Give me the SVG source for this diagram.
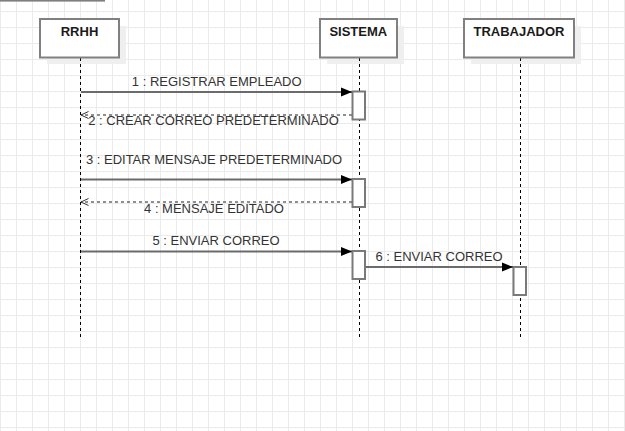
<svg xmlns="http://www.w3.org/2000/svg" width="625" height="431" viewBox="0 0 625 431">
<style>
.grid line{stroke:#ebebeb;stroke-width:1}
.box{fill:#ffffff;stroke:#808080;stroke-width:2}
.shadow{fill:#efefef}
.act{fill:#ffffff;stroke:#7a7a7a;stroke-width:2}
.life{stroke:#000000;stroke-width:1;stroke-dasharray:3 3}
.name{font-family:"Liberation Sans",Arial,Helvetica,sans-serif;font-size:13px;font-weight:bold;fill:#1a1a1a;text-anchor:middle}
.lbl{font-family:"Liberation Sans",Arial,Helvetica,sans-serif;font-size:13px;fill:#333333;text-anchor:middle}
.call{stroke:#6b6b6b;stroke-width:2;fill:none;marker-end:url(#filled)}
.ret{stroke:#6b6b6b;stroke-width:1.5;stroke-dasharray:3 3;fill:none;marker-end:url(#open)}
</style>
<defs>
<marker id="filled" markerUnits="userSpaceOnUse" viewBox="0 0 11 10" refX="11" refY="5" markerWidth="11" markerHeight="10" orient="auto">
<path d="M0,0.5 L11,5 L0,9.5 Z" fill="#000000"/>
</marker>
<marker id="open" markerUnits="userSpaceOnUse" viewBox="0 0 9 9" refX="8.5" refY="4.5" markerWidth="9" markerHeight="9" orient="auto">
<path d="M1,1 L8.5,4.5 L1,8" fill="none" stroke="#333333" stroke-width="1"/>
</marker>
</defs>
<rect x="0" y="0" width="625" height="431" fill="#ffffff"/>
<g class="grid">
<line x1="0.5" y1="0" x2="0.5" y2="431"/><line x1="16.5" y1="0" x2="16.5" y2="431"/><line x1="32.5" y1="0" x2="32.5" y2="431"/><line x1="48.5" y1="0" x2="48.5" y2="431"/><line x1="64.5" y1="0" x2="64.5" y2="431"/><line x1="80.5" y1="0" x2="80.5" y2="431"/><line x1="96.5" y1="0" x2="96.5" y2="431"/><line x1="112.5" y1="0" x2="112.5" y2="431"/><line x1="128.5" y1="0" x2="128.5" y2="431"/><line x1="144.5" y1="0" x2="144.5" y2="431"/><line x1="160.5" y1="0" x2="160.5" y2="431"/><line x1="176.5" y1="0" x2="176.5" y2="431"/><line x1="192.5" y1="0" x2="192.5" y2="431"/><line x1="208.5" y1="0" x2="208.5" y2="431"/><line x1="224.5" y1="0" x2="224.5" y2="431"/><line x1="240.5" y1="0" x2="240.5" y2="431"/><line x1="256.5" y1="0" x2="256.5" y2="431"/><line x1="272.5" y1="0" x2="272.5" y2="431"/><line x1="288.5" y1="0" x2="288.5" y2="431"/><line x1="304.5" y1="0" x2="304.5" y2="431"/><line x1="320.5" y1="0" x2="320.5" y2="431"/><line x1="336.5" y1="0" x2="336.5" y2="431"/><line x1="352.5" y1="0" x2="352.5" y2="431"/><line x1="368.5" y1="0" x2="368.5" y2="431"/><line x1="384.5" y1="0" x2="384.5" y2="431"/><line x1="400.5" y1="0" x2="400.5" y2="431"/><line x1="416.5" y1="0" x2="416.5" y2="431"/><line x1="432.5" y1="0" x2="432.5" y2="431"/><line x1="448.5" y1="0" x2="448.5" y2="431"/><line x1="464.5" y1="0" x2="464.5" y2="431"/><line x1="480.5" y1="0" x2="480.5" y2="431"/><line x1="496.5" y1="0" x2="496.5" y2="431"/><line x1="512.5" y1="0" x2="512.5" y2="431"/><line x1="528.5" y1="0" x2="528.5" y2="431"/><line x1="544.5" y1="0" x2="544.5" y2="431"/><line x1="560.5" y1="0" x2="560.5" y2="431"/><line x1="576.5" y1="0" x2="576.5" y2="431"/><line x1="592.5" y1="0" x2="592.5" y2="431"/><line x1="608.5" y1="0" x2="608.5" y2="431"/><line x1="624.5" y1="0" x2="624.5" y2="431"/>
<line x1="0" y1="11.5" x2="625" y2="11.5"/><line x1="0" y1="27.5" x2="625" y2="27.5"/><line x1="0" y1="43.5" x2="625" y2="43.5"/><line x1="0" y1="59.5" x2="625" y2="59.5"/><line x1="0" y1="75.5" x2="625" y2="75.5"/><line x1="0" y1="91.5" x2="625" y2="91.5"/><line x1="0" y1="107.5" x2="625" y2="107.5"/><line x1="0" y1="123.5" x2="625" y2="123.5"/><line x1="0" y1="139.5" x2="625" y2="139.5"/><line x1="0" y1="155.5" x2="625" y2="155.5"/><line x1="0" y1="171.5" x2="625" y2="171.5"/><line x1="0" y1="187.5" x2="625" y2="187.5"/><line x1="0" y1="203.5" x2="625" y2="203.5"/><line x1="0" y1="219.5" x2="625" y2="219.5"/><line x1="0" y1="235.5" x2="625" y2="235.5"/><line x1="0" y1="251.5" x2="625" y2="251.5"/><line x1="0" y1="267.5" x2="625" y2="267.5"/><line x1="0" y1="283.5" x2="625" y2="283.5"/><line x1="0" y1="299.5" x2="625" y2="299.5"/><line x1="0" y1="315.5" x2="625" y2="315.5"/><line x1="0" y1="331.5" x2="625" y2="331.5"/><line x1="0" y1="347.5" x2="625" y2="347.5"/><line x1="0" y1="363.5" x2="625" y2="363.5"/><line x1="0" y1="379.5" x2="625" y2="379.5"/><line x1="0" y1="395.5" x2="625" y2="395.5"/><line x1="0" y1="411.5" x2="625" y2="411.5"/><line x1="0" y1="427.5" x2="625" y2="427.5"/>
</g>
<rect x="0" y="0" width="105" height="1.6" fill="#7f7f7f"/>
<g id="rrhh">
<rect class="shadow" x="47" y="26" width="79" height="38"/>
<line class="life" x1="80.5" y1="58" x2="80.5" y2="338"/>
<rect class="box" x="40" y="19" width="79" height="38.5"/>
<text class="name" x="79.5" y="36">RRHH</text>
</g>
<g id="sistema">
<rect class="shadow" x="327" y="26" width="77" height="38"/>
<line class="life" x1="359.5" y1="58" x2="359.5" y2="338"/>
<rect class="box" x="320" y="19" width="77" height="38.5"/>
<text class="name" x="358.3" y="36">SISTEMA</text>
<rect class="act" x="352.5" y="91.5" width="12.5" height="28"/>
<rect class="act" x="352.5" y="179" width="12.5" height="28"/>
<rect class="act" x="352.5" y="251" width="12.5" height="28"/>
</g>
<g id="trabajador">
<rect class="shadow" x="471" y="26" width="110" height="38"/>
<line class="life" x1="520.5" y1="58" x2="520.5" y2="338"/>
<rect class="box" x="464" y="19" width="110" height="38.5"/>
<text class="name" x="519" y="36">TRABAJADOR</text>
<rect class="act" x="513.5" y="267" width="12.5" height="28"/>
</g>
<g id="connectors">
<line class="call" x1="81" y1="92" x2="352" y2="92"/>
<text class="lbl" x="216.7" y="86">1 : REGISTRAR EMPLEADO</text>
<line class="ret" x1="352" y1="115" x2="81" y2="115"/>
<text class="lbl" x="213.5" y="124.5">2 : CREAR CORREO PREDETERMINADO</text>
<line class="call" x1="81" y1="179.5" x2="352" y2="179.5"/>
<text class="lbl" x="214" y="164.3">3 : EDITAR MENSAJE PREDETERMINADO</text>
<line class="ret" x1="352" y1="202" x2="81" y2="202"/>
<text class="lbl" x="214" y="212.7">4 : MENSAJE EDITADO</text>
<line class="call" x1="81" y1="251.5" x2="352" y2="251.5"/>
<text class="lbl" x="216" y="245">5 : ENVIAR CORREO</text>
<line class="call" x1="366" y1="267" x2="513" y2="267"/>
<text class="lbl" x="439" y="261">6 : ENVIAR CORREO</text>
</g>
</svg>
